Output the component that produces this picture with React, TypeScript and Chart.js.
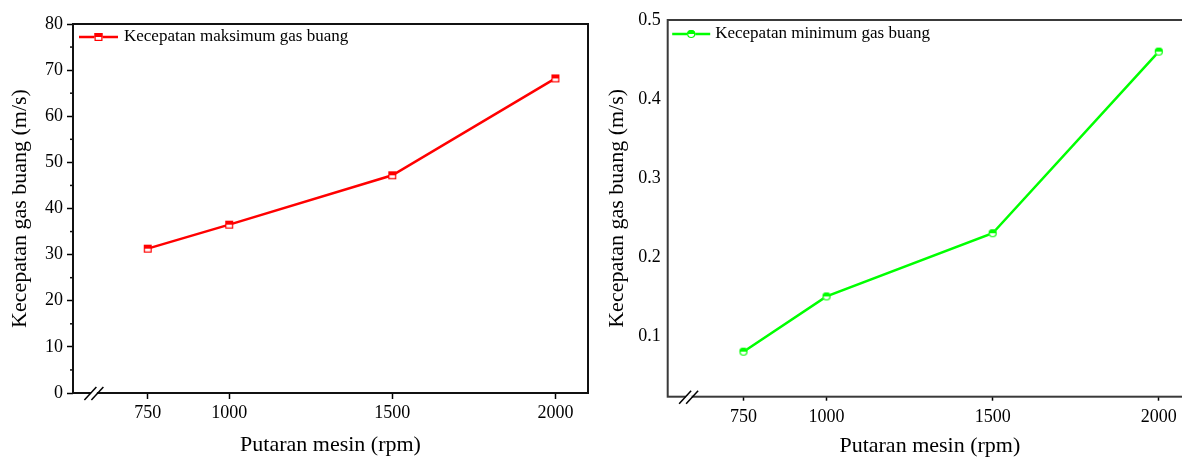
import React, { useEffect, useRef } from 'react';
import { Chart, registerables } from 'chart.js';

Chart.register(...registerables);

const rpm = [750, 1000, 1500, 2000];
const maxSpeed = [31.3, 36.5, 47.2, 68.2];
const minSpeed = [0.08, 0.15, 0.23, 0.46];
const xTickValues = [750, 1000, 1500, 2000];
const leftYTicks = [0, 10, 20, 30, 40, 50, 60, 70, 80];
const leftYMinorTicks = [5, 15, 25, 35, 45, 55, 65, 75];
const rightYTicks = [0.1, 0.2, 0.3, 0.4, 0.5];
const xTitle = 'Putaran mesin (rpm)';
const yTitle = 'Kecepatan gas buang (m/s)';
const maxLabel = 'Kecepatan maksimum gas buang';
const minLabel = 'Kecepatan minimum gas buang';

const FONT = "'Liberation Serif', 'Times New Roman', serif";

function drawMarker(ctx: CanvasRenderingContext2D, shape: string, color: string, cx: number, cy: number) {
  ctx.save();
  ctx.lineWidth = 1.2;
  ctx.strokeStyle = color;
  if (shape === 'square') {
    const h = 4;
    ctx.fillStyle = '#fff';
    ctx.fillRect(cx - h, cy - h, 2 * h, 2 * h);
    ctx.fillStyle = color;
    ctx.fillRect(cx - h, cy - h, 2 * h, h);
    ctx.strokeRect(cx - h + 0.6, cy - h + 0.6, 2 * h - 1.2, 2 * h - 1.2);
  } else {
    const r = 4.1;
    ctx.fillStyle = '#fff';
    ctx.beginPath();
    ctx.arc(cx, cy, r, 0, Math.PI * 2);
    ctx.fill();
    ctx.fillStyle = color;
    ctx.beginPath();
    ctx.arc(cx, cy, r, Math.PI, Math.PI * 2);
    ctx.closePath();
    ctx.fill();
    ctx.beginPath();
    ctx.arc(cx, cy, r - 0.6, 0, Math.PI * 2);
    ctx.stroke();
  }
  ctx.restore();
}

function makeMarker(shape: string, color: string) {
  const c = document.createElement('canvas');
  c.width = 12;
  c.height = 12;
  const ctx = c.getContext('2d')!;
  drawMarker(ctx, shape, color, 6, 6);
  return c;
}

type Spec = {
  label: string;
  data: number[];
  color: string;
  shape: string;
  yMin: number;
  yMax: number;
  yTicks: number[];
  yMinor: number[];
  yDecimals: number;
  padding: { left: number; top: number; right: number; bottom: number };
  yWidth: number;
  xHeight: number;
  yTitlePad: number;
  xTitlePad: number;
  yTickLen: number;
  yTickPad: number;
  xTickLen: number;
  xTickPad: number;
  tickFont: number;
  frameColor: string;
  xMin: number;
  xMax: number;
  legendDx: number;
  legendDy: number;
  legendLine: number;
  legendGap: number;
};

function buildChart(canvas: HTMLCanvasElement, s: Spec) {
  const frame = {
    id: 'frame',
    afterDraw(chart: any) {
      const { ctx, chartArea: a } = chart;
      ctx.save();
      ctx.strokeStyle = s.frameColor;
      ctx.lineWidth = 2;
      ctx.strokeRect(a.left, a.top, a.right - a.left, a.bottom - a.top);
      // minor ticks
      const y = chart.scales.y;
      ctx.lineWidth = 1.5;
      s.yMinor.forEach((v) => {
        const py = y.getPixelForValue(v);
        ctx.beginPath();
        ctx.moveTo(a.left - 3, py);
        ctx.lineTo(a.left, py);
        ctx.stroke();
      });
      // axis break marks
      const x = chart.scales.x;
      const bx = x.getPixelForValue(585);
      const by = a.bottom;
      ctx.fillStyle = '#fff';
      ctx.fillRect(bx - 3, by - 1.5, 6, 3);
      ctx.strokeStyle = '#000';
      ctx.lineWidth = 1.5;
      [-3.5, 3.5].forEach((d) => {
        ctx.beginPath();
        ctx.moveTo(bx + d - 6, by + 7);
        ctx.lineTo(bx + d + 6, by - 6);
        ctx.stroke();
      });
      // legend (line + marker + text) inside plot area
      const lx = a.left + s.legendDx;
      const ly = a.top + s.legendDy;
      const ds = chart.data.datasets[0];
      ctx.strokeStyle = ds.borderColor;
      ctx.lineWidth = 2.5;
      ctx.beginPath();
      ctx.moveTo(lx, ly);
      ctx.lineTo(lx + s.legendLine, ly);
      ctx.stroke();
      drawMarker(ctx, s.shape, ds.borderColor, lx + s.legendLine / 2, ly);
      ctx.fillStyle = '#000';
      ctx.font = `17px ${FONT}`;
      ctx.textBaseline = 'middle';
      ctx.textAlign = 'left';
      ctx.fillText(ds.label, lx + s.legendLine + s.legendGap, ly);
      ctx.restore();
    },
  };

  return new Chart(canvas, {
    type: 'line',
    data: {
      datasets: [
        {
          label: s.label,
          data: rpm.map((r, i) => ({ x: r, y: s.data[i] })),
          borderColor: s.color,
          backgroundColor: s.color,
          borderWidth: 2.5,
          pointStyle: makeMarker(s.shape, s.color) as any,
          pointRadius: 4,
          pointHoverRadius: 4,
          tension: 0,
        },
      ],
    },
    options: {
      responsive: false,
      animation: false,
      devicePixelRatio: 1,
      layout: { padding: s.padding, autoPadding: false } as any,
      plugins: {
        legend: { display: false },
        tooltip: { enabled: false },
      },
      scales: {
        x: {
          type: 'linear',
          min: s.xMin,
          max: s.xMax,
          afterBuildTicks: (scale: any) => {
            scale.ticks = xTickValues.map((v) => ({ value: v }));
          },
          afterFit: (scale: any) => {
            scale.height = s.xHeight;
          },
          border: { display: false },
          grid: {
            drawOnChartArea: false,
            drawTicks: true,
            tickLength: s.xTickLen,
            tickWidth: 1.5,
            tickColor: '#000',
          },
          ticks: {
            padding: s.xTickPad,
            color: '#000',
            maxRotation: 0,
            font: { family: FONT, size: s.tickFont },
            callback: (v: any) => String(v),
          },
          title: {
            display: true,
            text: xTitle,
            color: '#000',
            font: { family: FONT, size: 22 },
            padding: { top: 0, bottom: s.xTitlePad },
          },
        },
        y: {
          type: 'linear',
          min: s.yMin,
          max: s.yMax,
          afterBuildTicks: (scale: any) => {
            scale.ticks = s.yTicks.map((v) => ({ value: v }));
          },
          afterFit: (scale: any) => {
            scale.width = s.yWidth;
          },
          border: { display: false },
          grid: {
            drawOnChartArea: false,
            drawTicks: s.yTickLen > 0,
            tickLength: s.yTickLen,
            tickWidth: 1.5,
            tickColor: '#000',
          },
          ticks: {
            padding: s.yTickPad,
            color: '#000',
            font: { family: FONT, size: s.tickFont },
            callback: (v: any) => Number(v).toFixed(s.yDecimals),
          },
          title: {
            display: true,
            text: yTitle,
            color: '#000',
            font: { family: FONT, size: 22 },
            padding: { top: s.yTitlePad, bottom: 0 },
          },
        },
      },
    } as any,
    plugins: [frame],
  });
}

export default function App() {
  const leftRef = useRef<HTMLCanvasElement>(null);
  const rightRef = useRef<HTMLCanvasElement>(null);

  useEffect(() => {
    const left = buildChart(leftRef.current!, {
      label: maxLabel,
      data: maxSpeed,
      color: '#ff0000',
      shape: 'square',
      yMin: 0,
      yMax: 80,
      yTicks: leftYTicks,
      yMinor: leftYMinorTicks,
      yDecimals: 0,
      padding: { left: 0, top: 24, right: 12, bottom: 0 },
      yWidth: 73,
      xHeight: 66,
      yTitlePad: 7,
      xTitlePad: 1,
      yTickLen: 6,
      yTickPad: 4,
      xTickLen: 6,
      xTickPad: 3,
      tickFont: 18,
      frameColor: '#111',
      xMin: 521,
      xMax: 2100,
      legendDx: 6,
      legendDy: 13,
      legendLine: 39,
      legendGap: 6,
    });
    const right = buildChart(rightRef.current!, {
      label: minLabel,
      data: minSpeed,
      color: '#00ff00',
      shape: 'circle',
      yMin: 0.023,
      yMax: 0.5,
      yTicks: rightYTicks,
      yMinor: [],
      yDecimals: 1,
      padding: { left: 0, top: 20, right: 23, bottom: 0 },
      yWidth: 72.7,
      xHeight: 62.3,
      yTitlePad: 9.3,
      xTitlePad: 0,
      yTickLen: 0,
      yTickPad: 7,
      xTickLen: 4,
      xTickPad: 6,
      tickFont: 18,
      frameColor: '#3a3a3a',
      xMin: 522,
      xMax: 2100,
      legendDx: 4.5,
      legendDy: 14,
      legendLine: 38,
      legendGap: 5,
    });
    return () => {
      left.destroy();
      right.destroy();
    };
  }, []);

  return (
    <div
      style={{
        position: 'absolute',
        left: 0,
        top: 0,
        width: 1182,
        height: 459,
        overflow: 'hidden',
        background: '#fff',
      }}
    >
      <canvas
        ref={leftRef}
        width={600}
        height={459}
        style={{ position: 'absolute', left: 0, top: 0, width: 600, height: 459 }}
      />
      <canvas
        ref={rightRef}
        width={620}
        height={459}
        style={{ position: 'absolute', left: 595, top: 0, width: 620, height: 459 }}
      />
    </div>
  );
}
